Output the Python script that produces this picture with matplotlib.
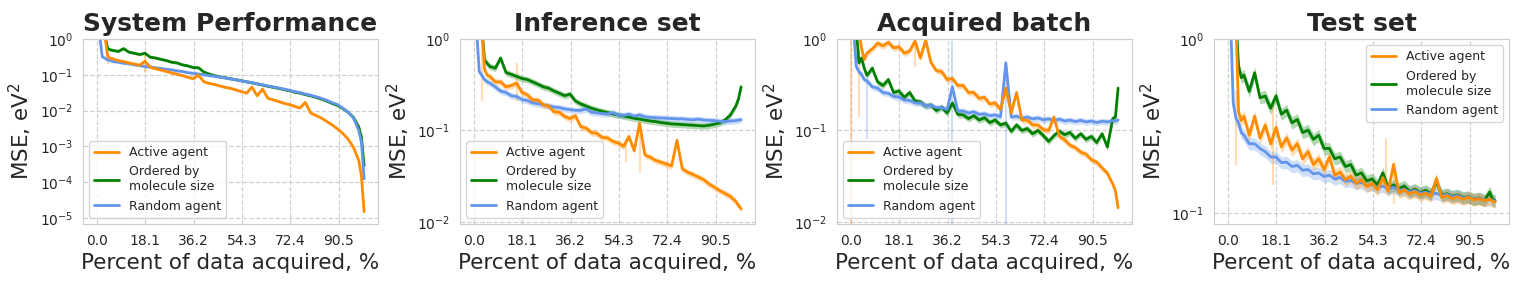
# ===== Imports =====
import numpy as np
import matplotlib
matplotlib.use("Agg")
import matplotlib.pyplot as plt
import seaborn as sns
from matplotlib.ticker import NullFormatter

nan = np.nan

# ===== Data =====
# percent of data acquired
x = [1, 2, 3, 4, 5, 6,
     8, 10, 12, 14, 16, 18, 20, 22,
     24, 26, 28, 30, 32, 34, 36, 38,
     40, 42, 44, 46, 48, 50, 52, 54,
     56, 58, 60, 62, 64, 66, 68, 70,
     72, 74, 76, 78, 80, 82, 84, 86,
     88, 90, 92, 94, 96, 98, 99, 100]

xtick_vals = [0, 18.1, 36.2, 54.3, 72.4, 90.5]
xtick_labels = ["0.0", "18.1", "36.2", "54.3", "72.4", "90.5"]

titles = ["System Performance", "Inference set", "Acquired batch", "Test set"]
labels = ["Active agent", "Ordered by\nmolecule size", "Random agent"]

# System Performance
sys_active = [nan, nan, 1.3, 0.33, 0.29, 0.28,
              0.25, 0.235, 0.215, 0.20, 0.185, 0.24, 0.162, 0.148,
              0.136, 0.124, 0.113, 0.104, 0.095, 0.086, 0.078, 0.098,
              0.064, 0.058, 0.054, 0.049, 0.045, 0.042, 0.038, 0.034,
              0.031, 0.045, 0.026, 0.040, 0.022, 0.020, 0.018, 0.016,
              0.0148, 0.0132, 0.0118, 0.017, 0.0086, 0.0073, 0.0062, 0.0050,
              0.0040, 0.0031, 0.0023, 0.0016, 0.00095, 0.00040, 0.00015, 0.000015]
sys_ordered = [nan, nan, 1.3, 0.55, 0.50, 0.48,
               0.45, 0.54, 0.43, 0.40, 0.37, 0.40, 0.31, 0.295,
               0.27, 0.25, 0.225, 0.215, 0.19, 0.178, 0.16, 0.158,
               0.12, 0.105, 0.095, 0.088, 0.083, 0.078, 0.073, 0.069,
               0.064, 0.060, 0.056, 0.052, 0.048, 0.045, 0.042, 0.039,
               0.036, 0.033, 0.031, 0.028, 0.026, 0.0235, 0.021, 0.0185,
               0.016, 0.014, 0.0115, 0.0090, 0.0065, 0.0035, 0.0018, 0.00029]
sys_random = [1.3, 0.32, 0.29, 0.26, 0.25, 0.235,
              0.225, 0.21, 0.205, 0.19, 0.182, 0.17, 0.166, 0.157,
              0.151, 0.143, 0.138, 0.129, 0.124, 0.115, 0.111, 0.105,
              0.101, 0.095, 0.091, 0.086, 0.082, 0.077, 0.073, 0.068,
              0.064, 0.061, 0.056, 0.053, 0.049, 0.046, 0.043, 0.040,
              0.037, 0.034, 0.032, 0.029, 0.027, 0.0245, 0.022, 0.0195,
              0.0168, 0.0148, 0.0118, 0.0090, 0.0062, 0.0028, 0.0013, 0.000125]

# Inference set
inf_active = [nan, nan, 1.3, 0.47, 0.40, 0.39,
              0.34, 0.34, 0.30, 0.31, 0.33, 0.26, 0.245, 0.215,
              0.215, 0.19, 0.185, 0.16, 0.158, 0.142, 0.135, 0.145,
              0.11, 0.106, 0.095, 0.093, 0.084, 0.083, 0.076, 0.073,
              0.067, 0.086, 0.060, 0.12, 0.054, 0.051, 0.047, 0.045,
              0.043, 0.041, 0.078, 0.038, 0.035, 0.033, 0.031, 0.029,
              0.026, 0.024, 0.022, 0.0205, 0.019, 0.0168, 0.0152, 0.0139]
inf_ordered = [nan, nan, 1.3, 0.59, 0.54, 0.50,
               0.48, 0.62, 0.43, 0.41, 0.39, 0.37, 0.36, 0.34,
               0.32, 0.30, 0.29, 0.27, 0.255, 0.24, 0.25, 0.21,
               0.195, 0.185, 0.175, 0.168, 0.162, 0.157, 0.152, 0.148,
               0.144, 0.14, 0.136, 0.133, 0.13, 0.127, 0.125, 0.122,
               0.12, 0.118, 0.117, 0.116, 0.115, 0.114, 0.113, 0.112,
               0.114, 0.117, 0.121, 0.13, 0.148, 0.185, 0.22, 0.30]
inf_random = [1.3, 0.44, 0.40, 0.36, 0.34, 0.33,
              0.30, 0.27, 0.26, 0.24, 0.235, 0.218, 0.212, 0.20,
              0.196, 0.19, 0.186, 0.18, 0.178, 0.172, 0.169, 0.166,
              0.166, 0.172, 0.158, 0.156, 0.153, 0.152, 0.157, 0.148,
              0.146, 0.151, 0.143, 0.148, 0.141, 0.139, 0.138, 0.137,
              0.136, 0.135, 0.134, 0.134, 0.132, 0.131, 0.133, 0.13,
              0.129, 0.128, 0.126, 0.125, 0.127, 0.128, 0.13, 0.131]

# Acquired batch
acq_active = [nan, nan, 1.3, 0.79, 0.60, 0.70,
              0.78, 0.90, 0.84, 0.92, 0.80, 0.82, 0.70, 0.74,
              0.95, 0.62, 0.97, 0.55, 0.45, 0.44, 0.36, 0.37,
              0.31, 0.31, 0.26, 0.26, 0.225, 0.23, 0.195, 0.20,
              0.17, 0.29, 0.155, 0.26, 0.13, 0.13, 0.115, 0.115,
              0.102, 0.10, 0.14, 0.086, 0.079, 0.069, 0.065, 0.058,
              0.055, 0.048, 0.045, 0.039, 0.034, 0.026, 0.022, 0.0143]
acq_ordered = [nan, 1.3, 0.55, 0.62, 0.48, 0.40,
               0.48, 0.34, 0.31, 0.36, 0.26, 0.27, 0.23, 0.26,
               0.21, 0.205, 0.185, 0.19, 0.165, 0.18, 0.155, 0.20,
               0.15, 0.148, 0.135, 0.145, 0.13, 0.138, 0.122, 0.13,
               0.115, 0.12, 0.098, 0.115, 0.10, 0.105, 0.092, 0.10,
               0.088, 0.076, 0.088, 0.098, 0.09, 0.095, 0.082, 0.092,
               0.08, 0.086, 0.074, 0.092, 0.066, 0.135, 0.14, 0.29]
acq_random = [1.3, 0.50, 0.44, 0.41, 0.36, 0.35,
              0.30, 0.29, 0.26, 0.255, 0.235, 0.232, 0.215, 0.213,
              0.20, 0.20, 0.187, 0.188, 0.178, 0.178, 0.17, 0.30,
              0.163, 0.163, 0.155, 0.16, 0.15, 0.152, 0.145, 0.148,
              0.141, 0.55, 0.14, 0.143, 0.136, 0.14, 0.134, 0.137,
              0.131, 0.134, 0.128, 0.133, 0.127, 0.13, 0.125, 0.129,
              0.124, 0.127, 0.122, 0.126, 0.124, 0.128, 0.127, 0.13]

# Test set
test_active = [nan, nan, 1.3, 0.38, 0.34, 0.36,
               0.28, 0.36, 0.27, 0.32, 0.25, 0.31, 0.24, 0.27,
               0.23, 0.25, 0.205, 0.225, 0.19, 0.205, 0.178, 0.21,
               0.165, 0.172, 0.155, 0.163, 0.148, 0.155, 0.142, 0.148,
               0.136, 0.16, 0.134, 0.19, 0.131, 0.136, 0.129, 0.133,
               0.127, 0.13, 0.125, 0.158, 0.123, 0.126, 0.121, 0.124,
               0.12, 0.123, 0.119, 0.121, 0.118, 0.12, 0.117, 0.116]
test_ordered = [nan, nan, 1.3, 0.70, 0.60, 0.62,
                0.50, 0.64, 0.46, 0.47, 0.40, 0.47, 0.37, 0.39,
                0.33, 0.345, 0.29, 0.30, 0.265, 0.28, 0.235, 0.235,
                0.205, 0.21, 0.185, 0.19, 0.165, 0.17, 0.153, 0.157,
                0.145, 0.17, 0.139, 0.145, 0.138, 0.143, 0.133, 0.137,
                0.131, 0.135, 0.129, 0.152, 0.127, 0.129, 0.125, 0.127,
                0.123, 0.124, 0.12, 0.122, 0.118, 0.132, 0.12, 0.118]
test_random = [1.3, 0.43, 0.35, 0.33, 0.29, 0.28,
               0.25, 0.25, 0.235, 0.225, 0.21, 0.21, 0.195, 0.196,
               0.185, 0.188, 0.176, 0.178, 0.168, 0.17, 0.162, 0.165,
               0.157, 0.16, 0.152, 0.154, 0.148, 0.15, 0.144, 0.146,
               0.14, 0.143, 0.137, 0.141, 0.135, 0.137, 0.132, 0.135,
               0.13, 0.132, 0.128, 0.13, 0.126, 0.128, 0.124, 0.126,
               0.122, 0.124, 0.12, 0.122, 0.119, 0.12, 0.118, 0.117]

# light outliers of the shaded band (x, low, high, which agent)
sys_spike_x = [4, 18]
sys_spike_lo = [0.20, 0.11]
sys_spike_hi = [0.40, 0.43]
sys_spike_who = ["active", "active"]

inf_spike_x = [3, 16, 57, 62]
inf_spike_lo = [0.21, 0.21, 0.045, 0.034]
inf_spike_hi = [1.0, 0.54, 0.08, 0.12]
inf_spike_who = ["active", "active", "active", "active"]

acq_spike_x = [0, 3, 6, 24, 38, 58]
acq_spike_lo = [0.009, 0.14, 0.08, 0.5, 0.009, 0.009]
acq_spike_hi = [1.0, 0.9, 0.34, 1.0, 0.95, 0.56]
acq_spike_who = ["active", "active", "random", "active", "random", "random"]

test_spike_x = [3, 17, 59, 62]
test_spike_lo = [0.19, 0.144, 0.13, 0.113]
test_spike_hi = [0.5, 0.42, 0.27, 0.19]
test_spike_who = ["active", "active", "active", "active"]

ylims = [(6.8e-6, 1), (0.0095, 1), (0.0095, 1), (0.0865, 1)]

# ===== Style =====
colors = {"active": "darkorange", "ordered": "green", "random": "cornflowerblue"}
BAND = 0.08

sns.set_style("whitegrid", {"grid.linestyle": "--"})
plt.rcParams["font.family"] = ["DejaVu Sans"]


def draw_panel(ax, title, active, ordered, random, ylim, spikes, loc):
    series = {"active": active, "ordered": ordered, "random": random}
    for sx, lo, hi, who in zip(*spikes):
        ax.vlines(sx, lo, hi, color=colors[who], alpha=0.3, lw=1.5)
    handles = {}
    for key in ["ordered", "random", "active"]:
        v = np.array(series[key], dtype=float)
        ax.fill_between(x, v * (1 - BAND), v * (1 + BAND),
                        color=colors[key], alpha=0.3, lw=0)
        handles[key], = ax.plot(x, v, color=colors[key], lw=2)
    ax.set_yscale("log")
    ax.set_ylim(*ylim)
    ax.set_xlim(-5.2, 105.2)
    ax.set_xticks(xtick_vals)
    ax.set_xticklabels(xtick_labels)
    ax.yaxis.set_minor_formatter(NullFormatter())
    ax.tick_params(labelsize=10)
    ax.grid(True, which="major", ls="--", color="#d0d0d0", lw=0.9)
    ax.set_title(title, fontsize=18, fontweight="bold", color="#262626")
    ax.set_xlabel("Percent of data acquired, %", fontsize=15.5)
    ax.set_ylabel("MSE, eV$^2$", fontsize=15.5)
    ax.legend([handles["active"], handles["ordered"], handles["random"]],
              labels, loc=loc, fontsize=9, frameon=True)


# ===== Plot =====
fig, axes = plt.subplots(1, 4, figsize=(15.23, 2.86), dpi=100)
fig.subplots_adjust(left=0.0545, right=0.9908, bottom=0.2168, top=0.8636,
                    wspace=0.278)

draw_panel(axes[0], titles[0], sys_active, sys_ordered, sys_random, ylims[0],
           (sys_spike_x, sys_spike_lo, sys_spike_hi, sys_spike_who), "lower left")
draw_panel(axes[1], titles[1], inf_active, inf_ordered, inf_random, ylims[1],
           (inf_spike_x, inf_spike_lo, inf_spike_hi, inf_spike_who), "lower left")
draw_panel(axes[2], titles[2], acq_active, acq_ordered, acq_random, ylims[2],
           (acq_spike_x, acq_spike_lo, acq_spike_hi, acq_spike_who), "lower left")
draw_panel(axes[3], titles[3], test_active, test_ordered, test_random, ylims[3],
           (test_spike_x, test_spike_lo, test_spike_hi, test_spike_who), "upper right")

fig.savefig("out.png", dpi=100)
